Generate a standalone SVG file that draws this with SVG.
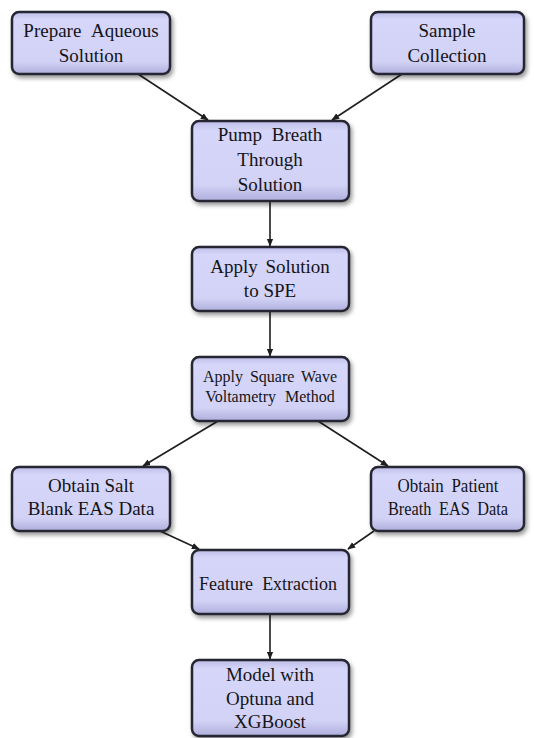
<svg xmlns="http://www.w3.org/2000/svg" width="534" height="738" viewBox="0 0 534 738">
  <style>
    .box { fill: url(#boxfill); stroke: #262630; stroke-width: 2.5; filter: url(#shadow); }
    .lbl { font-family: "Liberation Serif", "Times New Roman", serif; font-size: 19px; fill: #141418; text-anchor: middle; }
    .sm { font-size: 16px; }
    .edge { stroke: #1e1e1e; stroke-width: 1.6; fill: none; marker-end: url(#arrow); }
  </style>
  <defs>
    <linearGradient id="boxfill" x1="0" y1="0" x2="0" y2="1">
      <stop offset="0" stop-color="#bcbce8"/>
      <stop offset="0.12" stop-color="#d6d6fa"/>
      <stop offset="0.8" stop-color="#d2d2f6"/>
      <stop offset="1" stop-color="#aeaedc"/>
    </linearGradient>
    <filter id="shadow" x="-10%" y="-10%" width="125%" height="135%">
      <feDropShadow dx="2" dy="3" stdDeviation="2" flood-color="#000" flood-opacity="0.4"/>
    </filter>
    <marker id="arrow" viewBox="0 0 10 10" refX="9" refY="5" markerWidth="5" markerHeight="5" orient="auto" markerUnits="strokeWidth">
      <path d="M0,1 L10,5 L0,9 z" fill="#1e1e1e"/>
    </marker>
  </defs>
  <rect width="534" height="738" fill="#ffffff"/>
  <g id="connectors">
    <line class="edge" x1="138" y1="74" x2="208" y2="120"/>
    <line class="edge" x1="402" y1="74" x2="332" y2="120"/>
    <line class="edge" x1="270" y1="201" x2="270" y2="246"/>
    <line class="edge" x1="270" y1="311" x2="270" y2="356"/>
    <line class="edge" x1="218" y1="421" x2="143" y2="466"/>
    <line class="edge" x1="318" y1="421" x2="388" y2="466"/>
    <line class="edge" x1="160" y1="531" x2="199" y2="549"/>
    <line class="edge" x1="374" y1="531" x2="348" y2="549"/>
    <line class="edge" x1="270" y1="614" x2="270" y2="659"/>
  </g>
  <g id="prepare">
    <rect class="box" x="12" y="12" width="158" height="62" rx="7"/>
    <text class="lbl" x="91" y="37" word-spacing="6">Prepare Aqueous</text>
    <text class="lbl" x="91" y="62">Solution</text>
  </g>
  <g id="sample">
    <rect class="box" x="371" y="12" width="153" height="62" rx="7"/>
    <text class="lbl" x="447" y="37">Sample</text>
    <text class="lbl" x="447" y="62">Collection</text>
  </g>
  <g id="pump">
    <rect class="box" x="192" y="121" width="157" height="80" rx="7"/>
    <text class="lbl" x="270" y="141" word-spacing="5">Pump Breath</text>
    <text class="lbl" x="270" y="166">Through</text>
    <text class="lbl" x="270" y="191">Solution</text>
  </g>
  <g id="apply-spe">
    <rect class="box" x="192" y="247" width="157" height="64" rx="7"/>
    <text class="lbl" x="270" y="273" word-spacing="3">Apply Solution</text>
    <text class="lbl" x="270" y="297">to SPE</text>
  </g>
  <g id="swv">
    <rect class="box" x="192" y="357" width="157" height="64" rx="7"/>
    <text class="lbl sm" x="270" y="382" word-spacing="3">Apply Square Wave</text>
    <text class="lbl sm" x="270" y="402" word-spacing="5">Voltametry Method</text>
  </g>
  <g id="salt">
    <rect class="box" x="12" y="467" width="158" height="64" rx="7"/>
    <text class="lbl" x="91" y="492">Obtain Salt</text>
    <text class="lbl" x="91" y="515">Blank EAS Data</text>
  </g>
  <g id="patient">
    <rect class="box" x="371" y="467" width="153" height="64" rx="7"/>
    <text class="lbl" x="448" y="492" word-spacing="4" textLength="101" lengthAdjust="spacingAndGlyphs">Obtain Patient</text>
    <text class="lbl" x="448" y="515" word-spacing="4" textLength="120" lengthAdjust="spacingAndGlyphs">Breath EAS Data</text>
  </g>
  <g id="feature">
    <rect class="box" x="192" y="550" width="157" height="64" rx="7"/>
    <text class="lbl" x="268" y="590" word-spacing="5" textLength="138" lengthAdjust="spacingAndGlyphs">Feature Extraction</text>
  </g>
  <g id="model">
    <rect class="box" x="192" y="660" width="157" height="76" rx="7"/>
    <text class="lbl" x="270" y="681">Model with</text>
    <text class="lbl" x="270" y="705">Optuna and</text>
    <text class="lbl" x="270" y="728">XGBoost</text>
  </g>
</svg>
